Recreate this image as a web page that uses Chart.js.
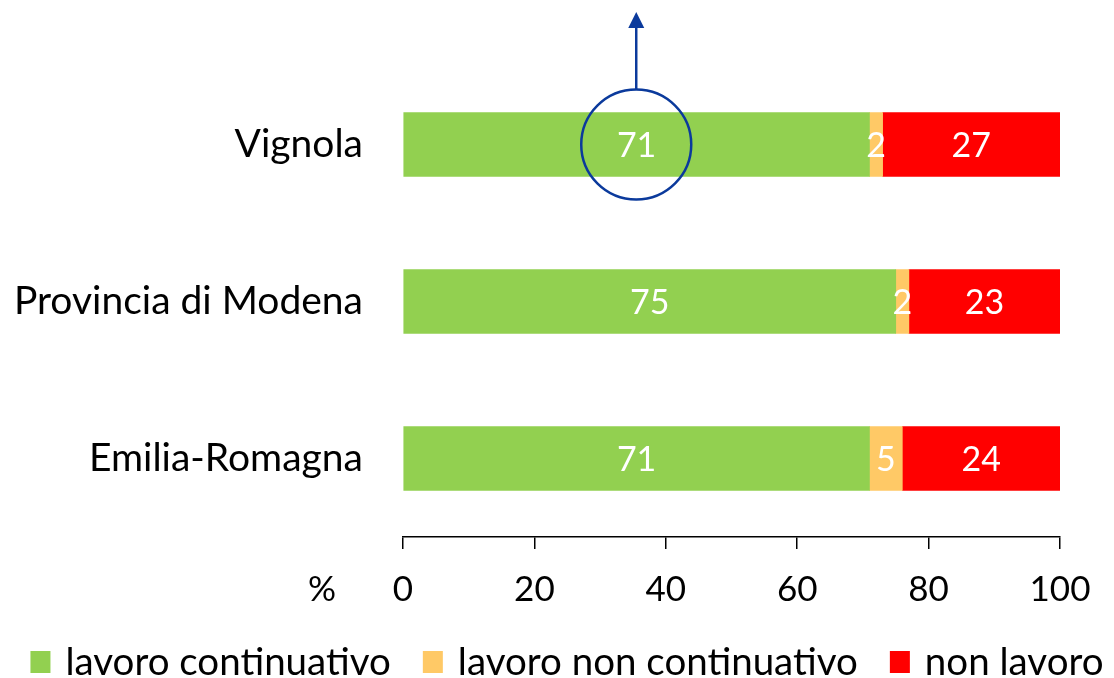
<!DOCTYPE html>
<html>
<head>
<meta charset="utf-8">
<script src="https://cdn.jsdelivr.net/npm/chart.js@4/dist/chart.umd.min.js"></script>
<style>
html,body{margin:0;padding:0;background:#fff;}
#wrap{width:1114px;height:678px;}
</style>
</head>
<body>
<div id="wrap"><canvas id="c" width="1114" height="678"></canvas></div>
<script>
const categories = ["Vignola", "Provincia di Modena", "Emilia-Romagna"];
const lavoroContinuativo = [71, 75, 71];
const lavoroNonContinuativo = [2, 2, 5];
const nonLavoro = [27, 23, 24];
const seriesNames = ["lavoro continuativo", "lavoro non continuativo", "non lavoro"];
const seriesColors = ["#92D050", "#FFC966", "#FF0000"];
const xTicks = [0, 20, 40, 60, 80, 100];
const highlightCategory = 0;

const FONT = "Lato, 'Open Sans', sans-serif";

const labelsPlugin = {
  id: 'barLabels',
  afterDatasetsDraw(chart) {
    const ctx = chart.ctx;
    ctx.save();
    ctx.fillStyle = '#ffffff';
    ctx.font = '34px ' + FONT;
    ctx.textAlign = 'center';
    ctx.textBaseline = 'middle';
    chart.data.datasets.forEach((ds, di) => {
      const meta = chart.getDatasetMeta(di);
      meta.data.forEach((el, i) => {
        const cx = (el.x + el.base) / 2;
        ctx.fillText(String(ds.data[i]), cx, el.y + 2);
      });
    });
    ctx.restore();
  }
};

const legendPlugin = {
  id: 'customLegend',
  afterDraw(chart) {
    const ctx = chart.ctx;
    ctx.save();
    ctx.font = '38.5px ' + FONT;
    ctx.textBaseline = 'middle';
    ctx.textAlign = 'left';
    const boxW = 20, boxH = 22, gap = 15, spacing = 32;
    const widths = chart.data.datasets.map(ds => boxW + gap + ctx.measureText(ds.label).width);
    const total = widths.reduce((a, b) => a + b, 0) + spacing * (widths.length - 1);
    let x = 567 - total / 2;
    const y = 662;
    chart.data.datasets.forEach((ds, i) => {
      ctx.fillStyle = ds.backgroundColor;
      ctx.fillRect(x, y - boxH / 2, boxW, boxH);
      ctx.fillStyle = '#000';
      ctx.fillText(ds.label, x + boxW + gap, y + 1);
      x += widths[i] + spacing;
    });
    ctx.restore();
  }
};

const annotPlugin = {
  id: 'annot',
  afterDraw(chart) {
    const ctx = chart.ctx;
    const xs = chart.scales.x, ys = chart.scales.y;
    const cx = xs.getPixelForValue(lavoroContinuativo[highlightCategory] / 2);
    const cy = ys.getPixelForValue(highlightCategory);
    const r = 55;
    ctx.save();
    ctx.strokeStyle = '#0b3a9c';
    ctx.fillStyle = '#0b3a9c';
    ctx.lineWidth = 2.5;
    ctx.beginPath();
    ctx.arc(cx, cy, r, 0, Math.PI * 2);
    ctx.stroke();
    ctx.beginPath();
    ctx.moveTo(cx, cy - r);
    ctx.lineTo(cx, 26);
    ctx.stroke();
    ctx.beginPath();
    ctx.moveTo(cx, 12);
    ctx.lineTo(cx - 8, 28);
    ctx.lineTo(cx + 8, 28);
    ctx.closePath();
    ctx.fill();
    ctx.fillStyle = '#000';
    ctx.font = '35px ' + FONT;
    ctx.textAlign = 'center';
    ctx.textBaseline = 'middle';
    ctx.fillText('%', 322, xs.top + 53);
    ctx.restore();
  }
};

new Chart(document.getElementById('c'), {
  type: 'bar',
  data: {
    labels: categories,
    datasets: [
      { label: seriesNames[0], data: lavoroContinuativo, backgroundColor: seriesColors[0] },
      { label: seriesNames[1], data: lavoroNonContinuativo, backgroundColor: seriesColors[1] },
      { label: seriesNames[2], data: nonLavoro, backgroundColor: seriesColors[2] }
    ]
  },
  options: {
    indexAxis: 'y',
    responsive: false,
    animation: false,
    events: [],
    datasets: { bar: { barThickness: 64, borderWidth: 0 } },
    layout: { padding: { top: 66, right: 54, bottom: 67, left: 0 } },
    scales: {
      x: {
        stacked: true,
        min: 0, max: 100,
        afterBuildTicks(scale) { scale.ticks = xTicks.map(v => ({ value: v })); },
        afterFit(scale) { scale.height = 74; },
        border: { display: true, color: '#000', width: 1.5 },
        grid: { drawOnChartArea: false, drawTicks: true, tickLength: 12, color: '#000', lineWidth: 1.5 },
        ticks: { color: '#000', font: { size: 35, family: FONT }, padding: 20, maxRotation: 0 }
      },
      y: {
        stacked: true,
        afterFit(scale) { scale.width = 403; },
        border: { display: false },
        grid: { display: false },
        ticks: { color: '#000', font: { size: 39, family: FONT }, padding: 32 }
      }
    },
    plugins: {
      legend: { display: false },
      tooltip: { enabled: false }
    }
  },
  plugins: [labelsPlugin, legendPlugin, annotPlugin]
});
</script>
</body>
</html>
